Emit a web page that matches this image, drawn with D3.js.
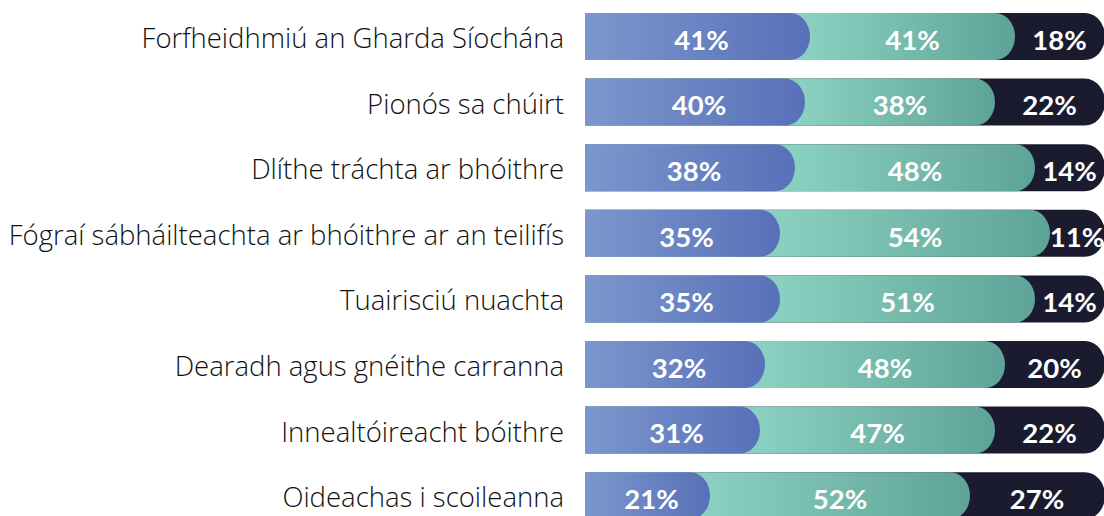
<!DOCTYPE html>
<html>
<head>
<meta charset="utf-8">
<script src="https://d3js.org/d3.v7.min.js"></script>
<style>
  body { margin: 0; background: #fff; }
  svg { display: block; }
</style>
</head>
<body>
<div class="graph"></div>
<script>
  // categories top to bottom, one value per series (percent)
  var categories = [
    'Forfheidhmiú an Gharda Síochána',
    'Pionós sa chúirt',
    'Dlíthe tráchta ar bhóithre',
    'Fógraí sábháilteachta ar bhóithre ar an teilifís',
    'Tuairisciú nuachta',
    'Dearadh agus gnéithe carranna',
    'Innealtóireacht bóithre',
    'Oideachas i scoileanna'
  ];
  var seriesA = [41, 40, 38, 35, 35, 32, 31, 21];
  var seriesB = [41, 38, 48, 54, 51, 48, 47, 52];
  var seriesC = [18, 22, 14, 11, 14, 20, 22, 27];

  var width = 1104, height = 516;
  var cap = 20;

  var colors = [
    ['#7c97cd', '#5870b8'],
    ['#8ad0c0', '#5ea397'],
    ['#1b1b2f', '#1b1b2f']
  ];

  var svg = d3.select('.graph').append('svg')
      .attr('width', width)
      .attr('height', height);

  var defs = svg.append('defs');

  var x = d3.scaleLinear().domain([0, 100]).range([585, 1085]);
  var y = d3.scaleBand().domain(categories)
      .range([3.7, 528.5])
      .paddingInner(0.283)
      .paddingOuter(0.1415);

  var rows = categories.map(function(c, i) {
    var vals = [seriesA[i], seriesB[i], seriesC[i]];
    var cum = 0;
    var segs = vals.map(function(v, k) {
      var s = { row: i, k: k, value: v, start: cum, end: cum + v };
      cum += v;
      return s;
    });
    return { name: c, segs: segs };
  });

  var h = y.bandwidth();

  // category labels
  svg.selectAll('.cat')
    .data(rows)
    .enter().append('text')
    .attr('class', 'cat')
    .attr('x', 564)
    .attr('y', function(d) { return y(d.name) + h / 2 + 11.5; })
    .attr('text-anchor', 'end')
    .style('font-family', '"Open Sans", sans-serif')
    .style('font-weight', 300)
    .style('font-size', '27.5px')
    .style('fill', '#111')
    .text(function(d) { return d.name; });

  function segPath(d) {
    var top = y(categories[d.row]);
    var x0 = x(0), xe = x(d.end);
    return 'M' + x0 + ',' + top + 'H' + xe +
      'A' + cap + ',' + (h / 2) + ' 0 0 1 ' + xe + ',' + (top + h) +
      'H' + x0 + 'Z';
  }

  var row = svg.selectAll('.row')
    .data(rows)
    .enter().append('g')
    .attr('class', 'row');

  row.each(function(r, i) {
    var g = d3.select(this);
    // draw last series first so earlier ones sit on top
    var segs = r.segs.slice().reverse();
    segs.forEach(function(s) {
      var id = 'grad-' + i + '-' + s.k;
      var gx0 = s.k === 0 ? x(0) : x(s.start) + cap;
      var gx1 = x(s.end) + cap;
      var grad = defs.append('linearGradient')
        .attr('id', id)
        .attr('gradientUnits', 'userSpaceOnUse')
        .attr('x1', gx0).attr('x2', gx1)
        .attr('y1', 0).attr('y2', 0);
      grad.append('stop').attr('offset', '0%').attr('stop-color', colors[s.k][0]);
      grad.append('stop').attr('offset', '100%').attr('stop-color', colors[s.k][1]);
      g.append('path')
        .attr('d', segPath(s))
        .style('fill', 'url(#' + id + ')');
    });

    g.selectAll('.val')
      .data(r.segs)
      .enter().append('text')
      .attr('class', 'val')
      .attr('x', function(s) {
        var a = s.k === 0 ? x(0) : x(s.start) + cap;
        var b = Math.min(x(s.end) + cap, width);
        return (a + b) / 2 + (s.k === 0 ? 4 : 0);
      })
      .attr('y', y(r.name) + h / 2 + 13.3)
      .attr('text-anchor', 'middle')
      .style('font-family', 'Lato, sans-serif')
      .style('font-weight', 'bold')
      .style('font-size', '27.5px')
      .style('fill', '#fff')
      .text(function(s) { return s.value + '%'; });
  });
</script>
</body>
</html>
